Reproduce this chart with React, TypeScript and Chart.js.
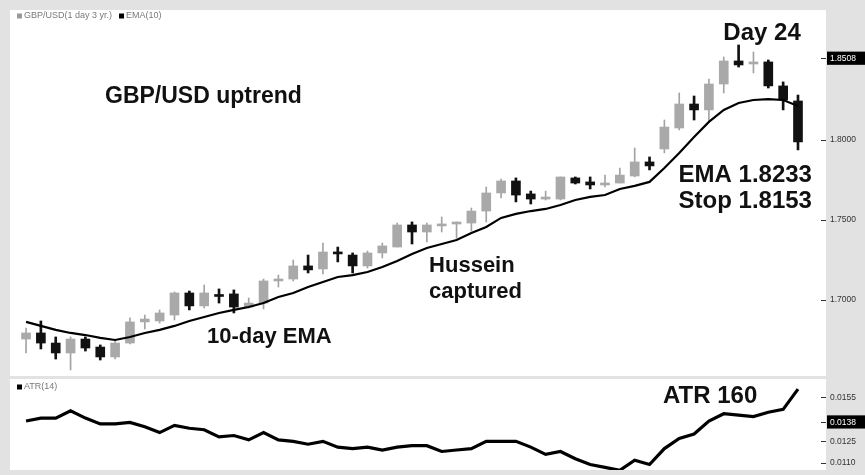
import React, { useEffect, useRef } from "react";
import { Chart, registerables } from "chart.js";
Chart.register(...registerables);

// ---- Data (daily GBP/USD candles, 53 sessions) ----
const OPEN = [
  1.6756, 1.6794, 1.6731, 1.6669, 1.6756, 1.6706, 1.6644, 1.6731, 1.6863, 1.6869,
  1.6906, 1.7044, 1.6963, 1.7028, 1.7038, 1.6956, 1.6981, 1.7119, 1.7131, 1.7213,
  1.7194, 1.7300, 1.7281, 1.7213, 1.7294, 1.7331, 1.7469, 1.7425, 1.7463, 1.7475,
  1.7481, 1.7556, 1.7669, 1.7744, 1.7663, 1.7631, 1.7631, 1.7763, 1.7738, 1.7719,
  1.7731, 1.7775, 1.7863, 1.7944, 1.8075, 1.8225, 1.8188, 1.8350, 1.8494, 1.8475,
  1.8488, 1.8338, 1.8244,
];
const HIGH = [
  1.6825, 1.6869, 1.6769, 1.6769, 1.6769, 1.6719, 1.6750, 1.6888, 1.6906, 1.6938,
  1.7050, 1.7056, 1.7094, 1.7069, 1.7063, 1.7013, 1.7131, 1.7156, 1.7250, 1.7281,
  1.7356, 1.7331, 1.7294, 1.7306, 1.7356, 1.7481, 1.7488, 1.7481, 1.7519, 1.7488,
  1.7575, 1.7706, 1.7756, 1.7763, 1.7681, 1.7681, 1.7769, 1.7769, 1.7769, 1.7781,
  1.7825, 1.7950, 1.7894, 1.8125, 1.8294, 1.8275, 1.8381, 1.8519, 1.8594, 1.8550,
  1.8500, 1.8363, 1.8281,
];
const LOW = [
  1.6669, 1.6694, 1.6631, 1.6563, 1.6681, 1.6625, 1.6631, 1.6725, 1.6819, 1.6856,
  1.6875, 1.6938, 1.6950, 1.6981, 1.6919, 1.6950, 1.6944, 1.7081, 1.7119, 1.7169,
  1.7163, 1.7238, 1.7169, 1.7200, 1.7263, 1.7331, 1.7350, 1.7363, 1.7425, 1.7388,
  1.7431, 1.7488, 1.7638, 1.7613, 1.7600, 1.7625, 1.7625, 1.7725, 1.7694, 1.7706,
  1.7731, 1.7769, 1.7813, 1.7919, 1.8063, 1.8125, 1.8113, 1.8294, 1.8456, 1.8419,
  1.8325, 1.8188, 1.7938,
];
const CLOSE = [
  1.6794, 1.6731, 1.6669, 1.6756, 1.6700, 1.6644, 1.6731, 1.6863, 1.6881, 1.6919,
  1.7044, 1.6963, 1.7044, 1.7022, 1.6956, 1.6981, 1.7119, 1.7131, 1.7213, 1.7188,
  1.7300, 1.7288, 1.7213, 1.7294, 1.7338, 1.7469, 1.7425, 1.7469, 1.7475, 1.7481,
  1.7556, 1.7669, 1.7744, 1.7656, 1.7631, 1.7638, 1.7769, 1.7731, 1.7719, 1.7731,
  1.7781, 1.7863, 1.7838, 1.8081, 1.8225, 1.8188, 1.8350, 1.8494, 1.8469, 1.8488,
  1.8338, 1.8250, 1.7988,
];
const EMA10 = [
  1.6863, 1.6838, 1.6813, 1.6794, 1.6781, 1.6763, 1.6750, 1.6769, 1.6794, 1.6813,
  1.6838, 1.6869, 1.6894, 1.6919, 1.6938, 1.6956, 1.6981, 1.7019, 1.7044, 1.7081,
  1.7113, 1.7144, 1.7156, 1.7175, 1.7206, 1.7244, 1.7288, 1.7325, 1.7350, 1.7375,
  1.7419, 1.7456, 1.7513, 1.7538, 1.7556, 1.7569, 1.7594, 1.7625, 1.7644, 1.7656,
  1.7694, 1.7713, 1.7738, 1.7825, 1.7919, 1.8019, 1.8113, 1.8188, 1.8231, 1.8250,
  1.8256, 1.8250, 1.8213,
];
const ATR14 = [
  0.0139, 0.0141, 0.0141, 0.0146, 0.0141, 0.0137, 0.0137, 0.0138, 0.0135, 0.0131,
  0.0136, 0.0134, 0.0133, 0.0128, 0.0129, 0.0126, 0.0131, 0.0126, 0.0125, 0.0123,
  0.0125, 0.0121, 0.0120, 0.0121, 0.0119, 0.0121, 0.0122, 0.0122, 0.0118, 0.0119,
  0.0120, 0.0125, 0.0125, 0.0125, 0.0121, 0.0116, 0.0118, 0.0113, 0.0109, 0.0107,
  0.0105, 0.0112, 0.0109, 0.0120, 0.0127, 0.0130, 0.0139, 0.0144, 0.0143, 0.0142,
  0.0145, 0.0147, 0.0161,
];
const PRICE_TICKS = [1.7, 1.75, 1.8, 1.8508];
const PRICE_MARK = 1.8508;
const ATR_TICKS = [0.011, 0.0125, 0.0138, 0.0155];
const ATR_MARK = 0.0138;

const PRICE_LEGEND = [
  { color: "#9a9a9a", text: "GBP/USD(1 day 3 yr.)" },
  { color: "#000000", text: "EMA(10)" },
];
const ATR_LEGEND = [{ color: "#000000", text: "ATR(14)" }];

type Note = { text: string; x: number; y: number; size: number; align: CanvasTextAlign };
const PRICE_NOTES: Note[] = [
  { text: "Day 24", x: 49.58, y: 1.8625, size: 24, align: "center" },
  { text: "GBP/USD uptrend", x: 5.32, y: 1.8231, size: 23, align: "left" },
  { text: "EMA 1.8233", x: 52.94, y: 1.77375, size: 24, align: "right" },
  { text: "Stop 1.8153", x: 52.94, y: 1.7575, size: 24, align: "right" },
  { text: "Hussein", x: 27.15, y: 1.7175, size: 22, align: "left" },
  { text: "captured", x: 27.15, y: 1.70125, size: 22, align: "left" },
  { text: "10-day EMA", x: 12.19, y: 1.673125, size: 22, align: "left" },
];
const ATR_NOTES: Note[] = [{ text: "ATR 160", x: 42.91, y: 0.01516, size: 24, align: "left" }];

const FONT = '"Liberation Sans", Arial, Helvetica, sans-serif';
const UP = "#a9a9a9";
const UP_WICK = "#a3a3a3";
const DOWN = "#111111";

const X_MIN = -1.08;
const X_MAX = 53.55;

function makeOverlay(notes: Note[], legend: { color: string; text: string }[], legendDy: number) {
  return {
    id: "overlay",
    beforeDraw(chart: any) {
      const { ctx, chartArea: a } = chart;
      ctx.save();
      ctx.fillStyle = "#ffffff";
      ctx.fillRect(a.left, a.top, a.right - a.left + 5, a.bottom - a.top);
      ctx.restore();
    },
    afterDatasetsDraw(chart: any) {
      const { ctx, chartArea: a, scales } = chart;
      ctx.save();
      let lx = a.left + 7;
      const ly = a.top + legendDy;
      ctx.font = `9px ${FONT}`;
      ctx.textBaseline = "middle";
      ctx.textAlign = "left";
      for (const l of legend) {
        ctx.fillStyle = l.color;
        ctx.fillRect(lx, ly - 2.5, 5, 5);
        lx += 7;
        ctx.fillStyle = "#7a7a7a";
        ctx.fillText(l.text, lx, ly);
        lx += ctx.measureText(l.text).width + 7;
      }
      ctx.textBaseline = "alphabetic";
      for (const n of notes) {
        ctx.font = `bold ${n.size}px ${FONT}`;
        ctx.fillStyle = "#111111";
        ctx.textAlign = n.align;
        ctx.fillText(n.text, scales.x.getPixelForValue(n.x), scales.y.getPixelForValue(n.y));
      }
      ctx.restore();
    },
  };
}

function yAxis(min: number, max: number, ticks: number[], mark: number) {
  return {
    position: "right" as const,
    min,
    max,
    afterFit: (s: any) => {
      s.width = 44;
      s.paddingTop = 0;
      s.paddingBottom = 0;
    },
    afterBuildTicks: (s: any) => {
      s.ticks = ticks.map((v) => ({ value: v }));
    },
    border: { display: false },
    grid: { drawOnChartArea: false, drawTicks: true, tickLength: 5, tickColor: "#333", tickWidth: 1 },
    ticks: {
      autoSkip: false,
      padding: 4,
      font: { family: FONT, size: 8.5 },
      color: (c: any) => (c.tick && Math.abs(c.tick.value - mark) < 1e-9 ? "#ffffff" : "#333333"),
      showLabelBackdrop: true,
      backdropPadding: { left: 3, right: 12, top: 2, bottom: 1 },
      backdropColor: (c: any) => (c.tick && Math.abs(c.tick.value - mark) < 1e-9 ? "#000000" : "rgba(0,0,0,0)"),
      callback: (v: any) => Number(v).toFixed(4),
    },
  };
}

export default function App() {
  const priceRef = useRef<HTMLCanvasElement>(null);
  const atrRef = useRef<HTMLCanvasElement>(null);

  useEffect(() => {
    const idx = OPEN.map((_, i) => i);
    const isUp = (i: number) => CLOSE[i] >= OPEN[i];

    const price = new Chart(priceRef.current!, {
      type: "bar",
      data: {
        datasets: [
          {
            type: "line",
            label: "EMA(10)",
            data: idx.map((i) => ({ x: i, y: EMA10[i] })),
            borderColor: "#000",
            borderWidth: 2.2,
            pointRadius: 0,
            tension: 0,
            order: 0,
          } as any,
          {
            label: "body",
            data: idx.map((i) => ({ x: i, y: [OPEN[i], CLOSE[i]] })),
            backgroundColor: idx.map((i) => (isUp(i) ? UP : DOWN)),
            borderWidth: 0,
            barThickness: 9,
            minBarLength: 2,
            grouped: false,
            order: 1,
          },
          {
            label: "wickDown",
            data: idx.map((i) => ({ x: i, y: isUp(i) ? null : [LOW[i], HIGH[i]] })),
            backgroundColor: DOWN,
            borderWidth: 0,
            barThickness: 2,
            grouped: false,
            order: 2,
          },
          {
            label: "wickUp",
            data: idx.map((i) => ({ x: i, y: isUp(i) ? [LOW[i], HIGH[i]] : null })),
            backgroundColor: UP_WICK,
            borderWidth: 0,
            barThickness: 1,
            grouped: false,
            order: 3,
          },
        ] as any,
      },
      options: {
        animation: false,
        responsive: true,
        maintainAspectRatio: false,
        layout: { padding: { left: 10, top: 10, right: 0, bottom: 1 } },
        plugins: { legend: { display: false }, tooltip: { enabled: false } },
        scales: {
          x: { type: "linear", display: false, min: X_MIN, max: X_MAX, offset: false },
          y: yAxis(1.6525, 1.88125, PRICE_TICKS, PRICE_MARK) as any,
        },
      },
      plugins: [makeOverlay(PRICE_NOTES, PRICE_LEGEND, 6)],
    });

    const atr = new Chart(atrRef.current!, {
      type: "line",
      data: {
        datasets: [
          {
            label: "ATR(14)",
            data: idx.map((i) => ({ x: i, y: ATR14[i] })),
            borderColor: "#000",
            borderWidth: 3.2,
            pointRadius: 0,
            tension: 0,
          },
        ],
      },
      options: {
        animation: false,
        responsive: true,
        maintainAspectRatio: false,
        layout: { padding: { left: 10, top: 2, right: 0, bottom: 5 } },
        plugins: { legend: { display: false }, tooltip: { enabled: false } },
        scales: {
          x: { type: "linear", display: false, min: X_MIN, max: X_MAX, offset: false },
          y: yAxis(0.010523, 0.016795, ATR_TICKS, ATR_MARK) as any,
        },
      },
      plugins: [makeOverlay(ATR_NOTES, ATR_LEGEND, 8)],
    });

    return () => {
      price.destroy();
      atr.destroy();
    };
  }, []);

  return (
    <div style={{ position: "fixed", left: 0, top: 0, width: 865, height: 475, background: "#e2e2e2" }}>
      <div style={{ position: "absolute", left: 0, top: 0, width: 865, height: 377 }}>
        <canvas ref={priceRef} />
      </div>
      <div style={{ position: "absolute", left: 0, top: 377, width: 865, height: 98 }}>
        <canvas ref={atrRef} />
      </div>
    </div>
  );
}
